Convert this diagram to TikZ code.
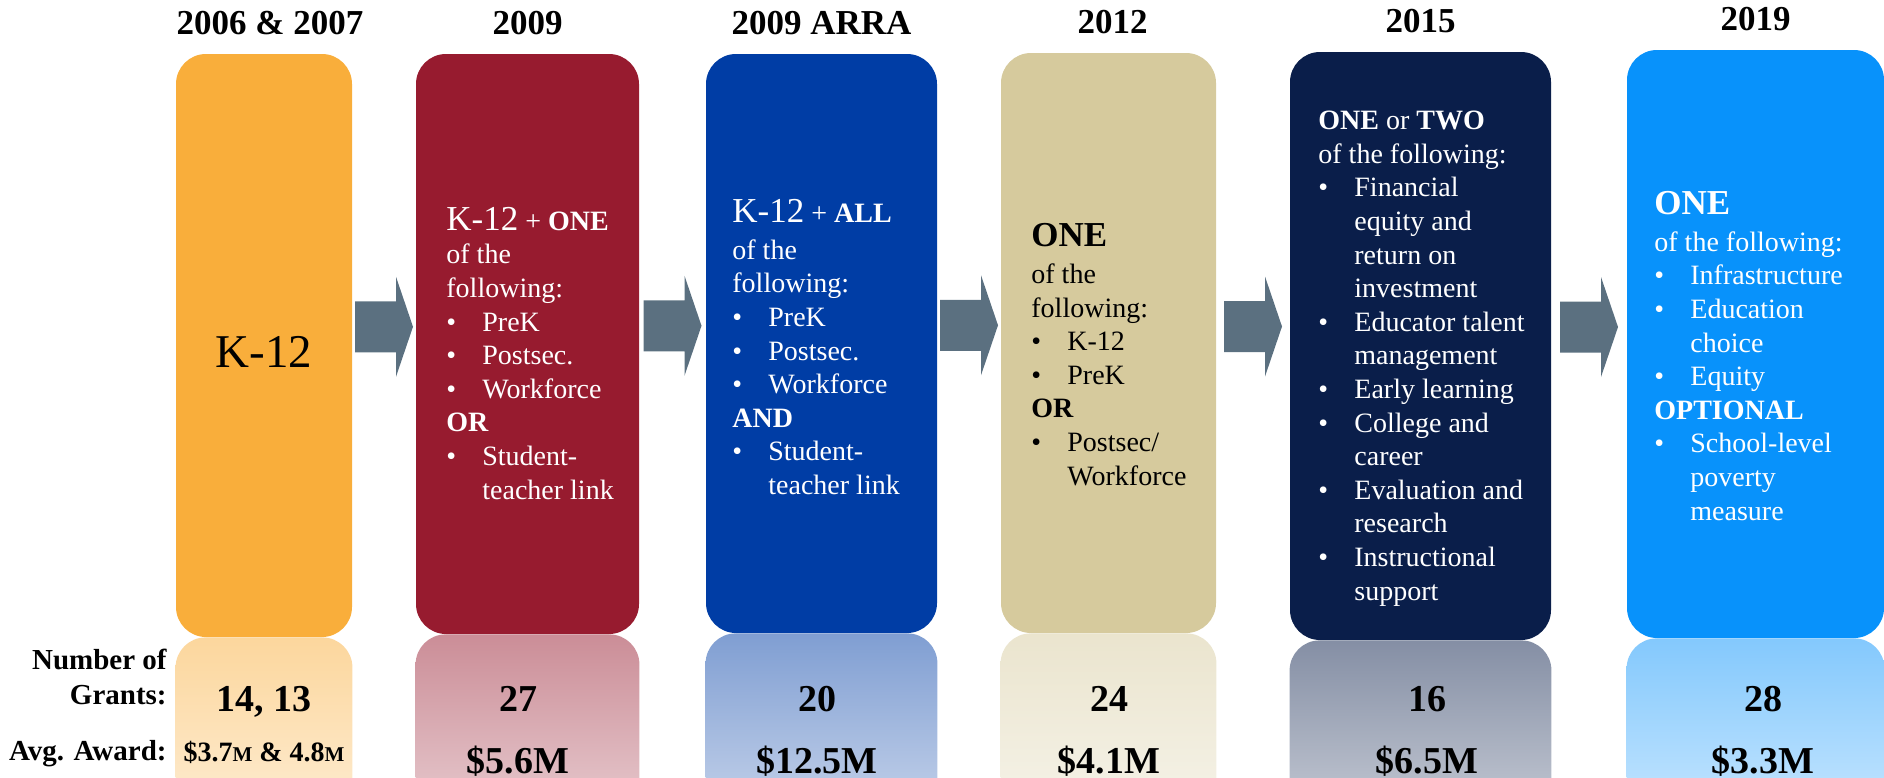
\documentclass[tikz,border=0pt]{standalone}
\usepackage{fontspec}
\setmainfont{Liberation Serif}
\usepackage{xcolor}
\usetikzlibrary{positioning,calc}

\definecolor{grantorange}{HTML}{F9AE3B}
\definecolor{grantred}{HTML}{971B2F}
\definecolor{grantblue}{HTML}{003DA5}
\definecolor{granttan}{HTML}{D6CA9D}
\definecolor{grantnavy}{HTML}{0A1E4A}
\definecolor{grantsky}{HTML}{0892FB}
\definecolor{arrowgray}{HTML}{5B7080}

\newcommand{\itm}{\makebox[18pt][l]{\textbullet}}
\newcommand{\cnt}{\hspace*{18pt}}
\newcommand{\smm}{{\fontsize{10.5}{10}\selectfont M}}

\begin{document}
\begin{tikzpicture}[
    x=0.5pt, y=-0.5pt,
    stage/.style={rectangle, rounded corners=15pt, inner sep=0pt},
    year/.style={font=\fontsize{17.5}{20}\selectfont\bfseries, inner sep=0pt},
    body/.style={align=left, inner sep=0pt, font=\fontsize{14}{16.8}\selectfont},
    tally/.style={font=\fontsize{19}{22}\selectfont\bfseries, inner sep=0pt},
    rowlabel/.style={align=right, inner sep=0pt, font=\fontsize{14.5}{17.5}\selectfont\bfseries},
    gaparrow/.pic={\fill[arrowgray] (-29,-25.5) -- (12,-25.5) -- (12,-50) -- (29,0) -- (12,50) -- (12,25.5) -- (-29,25.5) -- cycle;}
]
    \useasboundingbox (0,0) rectangle (1884,777);
    \clip (0,0) rectangle (1884,777);

    % Stages
    \node[stage, fill=grantorange, minimum width=88pt, minimum height=291.5pt] (b1) at (264,345.5) {};
    \node[stage, fill=grantred, minimum width=111.5pt, minimum height=290pt] (b2) at (527.5,344) {};
    \node[stage, fill=grantblue, minimum width=115.5pt, minimum height=289.5pt] (b3) at (821.5,343.5) {};
    \node[stage, fill=granttan, minimum width=107.5pt, minimum height=290pt] (b4) at (1108.5,343) {};
    \node[stage, fill=grantnavy, minimum width=130.5pt, minimum height=294pt] (b5) at (1420.5,346) {};
    \node[stage, fill=grantsky, minimum width=128.5pt, minimum height=294pt] (b6) at (1755.5,344) {};

    % Reflections
    \foreach \b/\c in {b1/grantorange, b2/grantred, b3/grantblue, b4/granttan, b5/grantnavy, b6/grantsky}
      \shade[rounded corners=15pt, top color=\c!50!white, bottom color=\c!22!white]
        (\b.south west) rectangle ($(\b.south east)+(0,190)$);

    % Arrows between stages
    \foreach \a/\b in {b1/b2, b2/b3, b3/b4, b4/b5, b5/b6}
      \path ($(\a.east)!0.5!(\b.west)$) ++(0,-18) pic {gaparrow};

    % Years
    \node[year, above=9pt of b1, xshift=3pt] (y1) {2006 \& 2007};
    \node[year, above=9pt of b2] (y2) {2009};
    \node[year, above=9pt of b3] (y3) {2009 ARRA};
    \node[year, above=9pt of b4, xshift=2pt] (y4) {2012};
    \node[year, above=9pt of b5] (y5) {2015};
    \node[year, above=9pt of b6] (y6) {2019};

    % Stage contents (anchored on the last line)
    \node[inner sep=0pt, font=\fontsize{23.5}{28}\selectfont, anchor=base] (t1) at (264,367) {K-12};
    \node[body, text=white, anchor=base west] (t2) at (446,499) {%
      {\fontsize{17.5}{17}\selectfont K-12} + \textbf{ONE}\\
      of the\\ following:\\
      \itm PreK\\ \itm Postsec.\\ \itm Workforce\\
      \textbf{OR}\\
      \itm Student-\\ \cnt teacher link};
    \node[body, text=white, anchor=base west] (t3) at (732,494.5) {%
      {\fontsize{17.5}{17}\selectfont K-12} + \textbf{ALL}\\[1.8pt]
      of the\\ following:\\
      \itm PreK\\ \itm Postsec.\\ \itm Workforce\\
      \textbf{AND}\\
      \itm Student-\\ \cnt teacher link};
    \node[body, anchor=base west] (t4) at (1031,485) {%
      {\fontsize{17.5}{17}\selectfont\bfseries ONE}\\[1.8pt]
      of the\\ following:\\
      \itm K-12\\ \itm PreK\\
      \textbf{OR}\\
      \itm Postsec/\\ \cnt Workforce};
    \node[body, text=white, anchor=base west] (t5) at (1318,600) {%
      \textbf{ONE} or \textbf{TWO}\\
      of the following:\\
      \itm Financial\\ \cnt equity and\\ \cnt return on\\ \cnt investment\\
      \itm Educator talent\\ \cnt management\\
      \itm Early learning\\
      \itm College and\\ \cnt career\\
      \itm Evaluation and\\ \cnt research\\
      \itm Instructional\\ \cnt support};
    \node[body, text=white, anchor=base west] (t6) at (1654,520) {%
      {\fontsize{17.5}{17}\selectfont\bfseries ONE}\\[1.8pt]
      of the following:\\
      \itm Infrastructure\\ \itm Education\\ \cnt choice\\ \itm Equity\\
      \textbf{OPTIONAL}\\
      \itm School-level\\ \cnt poverty\\ \cnt measure};

    % Grants and awards
    \node[rowlabel, anchor=base east] (lg) at (167,704) {Number of\\Grants:};
    \node[rowlabel, anchor=base east] (la) at (167,760) {Avg. Award:};
    \node[tally, anchor=base] (n1) at (264,711) {14, 13};
    \node[tally, anchor=base, font=\fontsize{14}{16}\selectfont\bfseries] (a1) at (264,761) {\$3.7\smm{} \& 4.8\smm};
    \foreach \i/\x/\n/\m in {2/518/27/5.6, 3/817/20/12.5, 4/1109/24/4.1, 5/1427/16/6.5, 6/1763/28/3.3} {
      \node[tally, anchor=base] (n\i) at (\x,711) {\n};
      \node[tally, anchor=base] (a\i) at (\x,773) {\$\m M};
    }
\end{tikzpicture}
\end{document}
